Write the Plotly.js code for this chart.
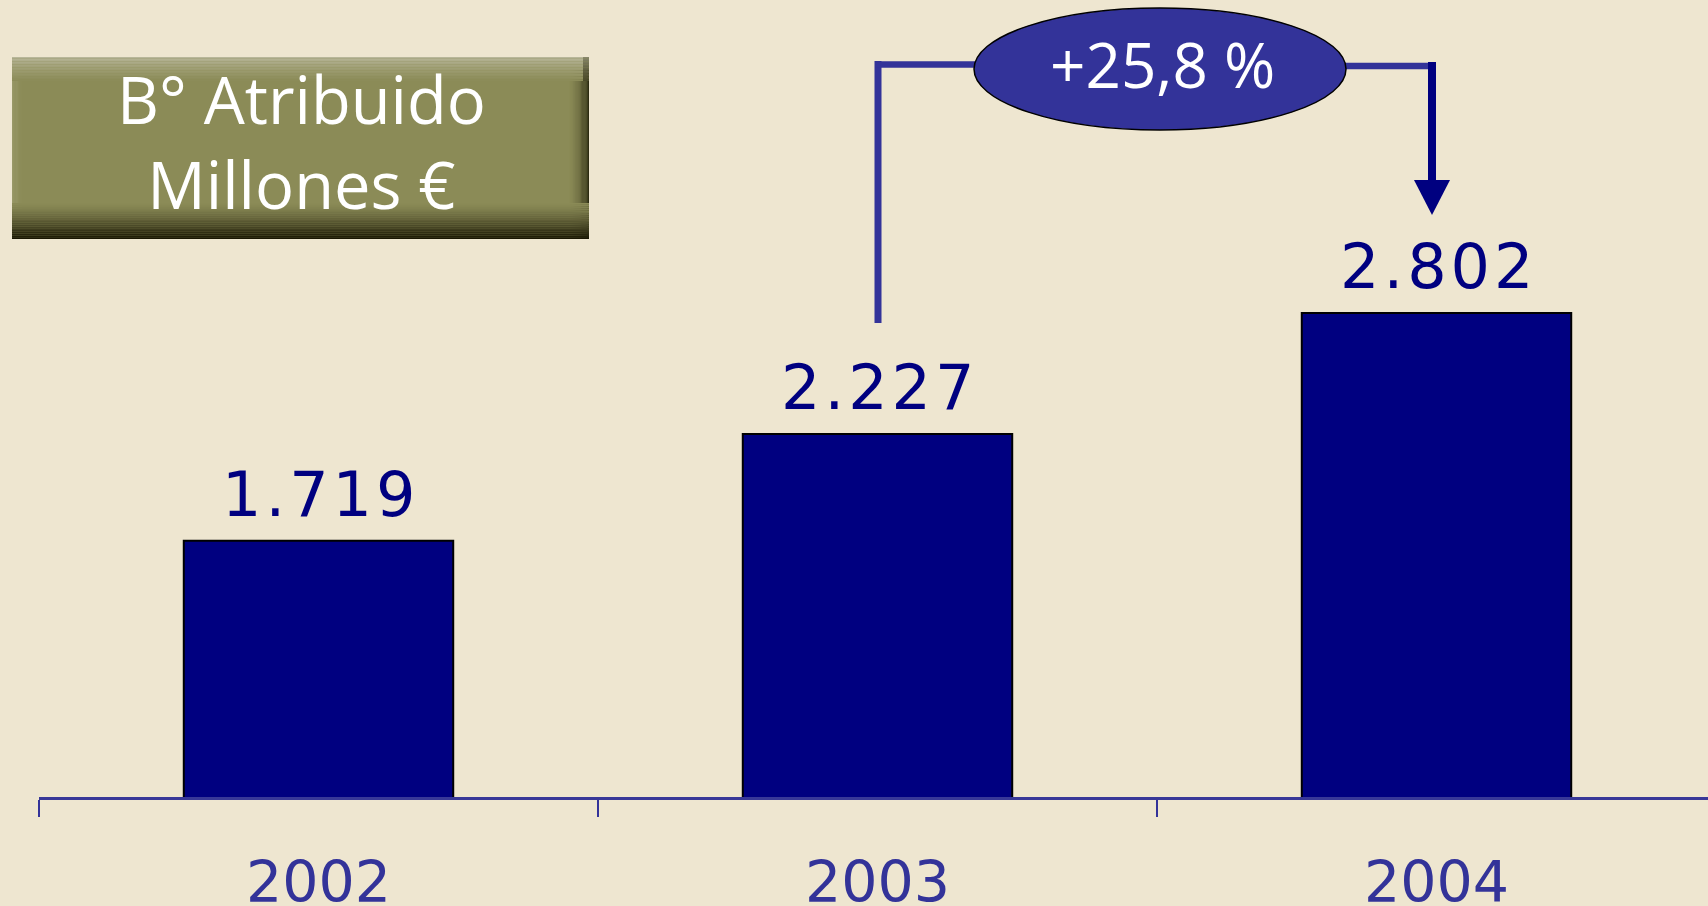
<!DOCTYPE html>
<html>
<head>
<meta charset="utf-8">
<script src="https://cdn.plot.ly/plotly-3.0.1.min.js"></script>
<style>
  html, body { margin: 0; padding: 0; background: #EEE6D0; }
  #chart { width: 1708px; height: 906px; }
</style>
</head>
<body>
<div id="chart"></div>
<script>
// ---- data ----
const years = ["2002", "2003", "2004"];
const beneficio = [1719, 2227, 2802];
const valueLabels = ["1.719", "2.227", "2.802"];
const titleLines = ["B° Atribuido", "Millones €"];
const growthLabel = "+25,8 %";

// ---- layout helpers (pixel -> paper) ----
const W = 1708, H = 906;
const px = x => x / W;
const py = y => 1 - y / H;

function hex(c) { return [parseInt(c.slice(1,3),16), parseInt(c.slice(3,5),16), parseInt(c.slice(5,7),16)]; }
function mix(a, b, t) {
  const A = hex(a), B = hex(b);
  return 'rgb(' + A.map((v, i) => Math.round(v + (B[i] - v) * t)).join(',') + ')';
}

const shapes = [];
// Title box with bevel-like gradient
const bx0 = 12, bx1 = 589, by0 = 57, by1 = 239;
const olive = '#8b8b57';
function rectPx(x0, x1, y0, y1, color) {
  shapes.push({type: 'rect', xref: 'paper', yref: 'paper', x0: px(x0), x1: px(x1), y0: py(y1), y1: py(y0),
    fillcolor: color, line: {width: 0}, layer: 'above'});
}
rectPx(bx0, bx1, by0, by1, olive);
// left edge slight highlight
const nL = 8;
for (let i = 0; i < nL; i++) {
  const xa = bx0 + i * 10 / nL, xb = bx0 + (i + 1) * 10 / nL;
  rectPx(xa, xb, by0 + 12, by1 - 30, mix('#9a9a6a', olive, (i + 0.5) / nL));
}
// right edge darkening
const nR = 18;
for (let i = 0; i < nR; i++) {
  const xa = 568 + i * (bx1 - 568) / nR, xb = 568 + (i + 1) * (bx1 - 568) / nR;
  const t = Math.pow((i + 0.5) / nR, 1.8);
  rectPx(xa, xb, 70, by1, mix(olive, '#28270e', t));
}
// top highlight
const nTop = 16;
for (let i = 0; i < nTop; i++) {
  const ya = by0 + i * 24 / nTop, yb = by0 + (i + 1) * 24 / nTop;
  const t = Math.pow((i + 0.5) / nTop, 0.7);
  rectPx(bx0, bx1 - 6, ya, yb, mix('#bcbba0', olive, t));
  rectPx(bx1 - 6, bx1, ya, yb, mix('#8e8d72', '#4a4928', t));
}
// bottom shadow
const nB = 20;
for (let i = 0; i < nB; i++) {
  const ya = 203 + i * (by1 - 203) / nB, yb = 203 + (i + 1) * (by1 - 203) / nB;
  rectPx(bx0, bx1, ya, yb, mix(olive, '#161300', Math.pow((i + 0.5) / nB, 1.3)));
}

// Growth connector
const conn = '#333399', arrowC = '#000080';
shapes.push({type: 'line', xref: 'paper', yref: 'paper', x0: px(878), x1: px(878), y0: py(323), y1: py(61),
  line: {color: conn, width: 7}});
shapes.push({type: 'line', xref: 'paper', yref: 'paper', x0: px(875), x1: px(980), y0: py(64.5), y1: py(64.5),
  line: {color: conn, width: 6.5}});
shapes.push({type: 'line', xref: 'paper', yref: 'paper', x0: px(1340), x1: px(1436), y0: py(66), y1: py(66),
  line: {color: conn, width: 6.5}});
shapes.push({type: 'line', xref: 'paper', yref: 'paper', x0: px(1432), x1: px(1432), y0: py(62), y1: py(185),
  line: {color: arrowC, width: 8}});
shapes.push({type: 'path', xref: 'paper', yref: 'paper',
  path: 'M ' + px(1414) + ' ' + py(180) + ' L ' + px(1450) + ' ' + py(180) + ' L ' + px(1432) + ' ' + py(215) + ' Z',
  fillcolor: arrowC, line: {width: 0}});
shapes.push({type: 'circle', xref: 'paper', yref: 'paper', x0: px(974), x1: px(1346), y0: py(130), y1: py(8),
  fillcolor: '#333399', line: {color: '#000000', width: 1.5}});

const annotations = [];
// value labels above bars (x given as category index)
years.forEach((yr, i) => {
  annotations.push({x: i, y: beneficio[i], xref: 'x', yref: 'y',
    text: '<span style="letter-spacing:4px">' + valueLabels[i] + '</span>', showarrow: false,
    xanchor: 'center', yanchor: 'bottom', yshift: 8, xshift: 2,
    font: {family: 'DejaVu Sans', size: 62, color: '#000080'}});
});
// title box text
annotations.push({x: px(301), y: py(141), xref: 'paper', yref: 'paper', text: titleLines.join('<br>'), showarrow: false,
  xanchor: 'center', yanchor: 'middle', align: 'center', font: {family: 'Open Sans', size: 65, color: '#ffffff'}});
// growth label
annotations.push({x: px(1162), y: py(64), xref: 'paper', yref: 'paper', text: growthLabel, showarrow: false,
  xanchor: 'center', yanchor: 'middle', font: {family: 'Open Sans', size: 62, color: '#ffffff'}});

const pxPerUnit = 0.21025;
const yMin = 500;
const plotH = 797;

const trace = {
  type: 'bar',
  x: years,
  y: beneficio,
  marker: {color: '#000080', line: {color: '#000000', width: 2}},
  hoverinfo: 'skip'
};

const layout = {
  width: W, height: H,
  margin: {l: 0, r: 0, t: 0, b: 0},
  paper_bgcolor: '#EEE6D0',
  plot_bgcolor: '#EEE6D0',
  showlegend: false,
  bargap: 0.518,
  xaxis: {
    domain: [39 / W, 1],
    type: 'category',
    range: [-0.5, -0.5 + (W - 39) / 559],
    showline: true, linecolor: '#383898', linewidth: 2.5,
    ticks: 'outside', ticklen: 17, tickwidth: 2, tickcolor: '#333399',
    tickson: 'boundaries',
    ticklabelstandoff: 34,
    tickfont: {family: 'DejaVu Sans', size: 57, color: '#333399'},
    showgrid: false, zeroline: false, fixedrange: true
  },
  yaxis: {
    domain: [(H - 797) / H, 1],
    range: [yMin, yMin + plotH / pxPerUnit],
    visible: false, showgrid: false, zeroline: false, fixedrange: true
  },
  shapes: shapes,
  annotations: annotations
};

Plotly.newPlot('chart', [trace], layout, {displayModeBar: false, staticPlot: true});
</script>
</body>
</html>
